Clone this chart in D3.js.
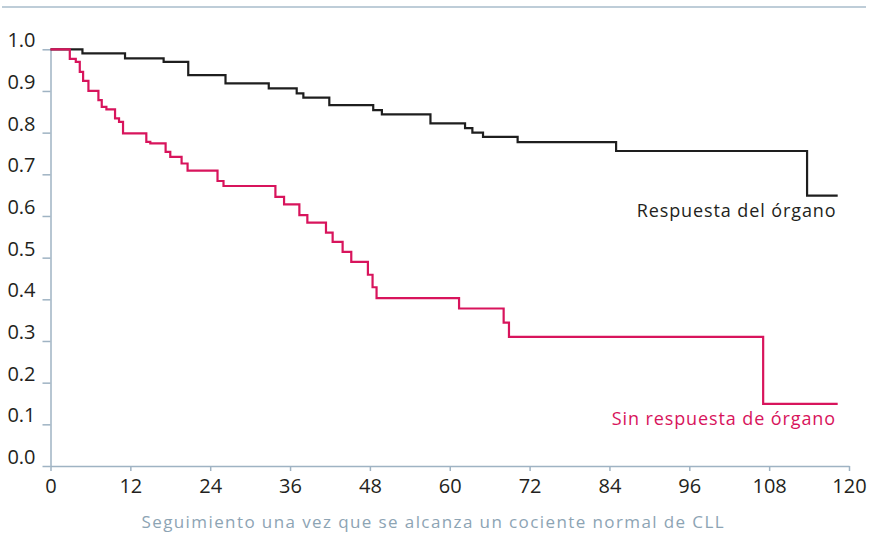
<!DOCTYPE html>
<html>
<head>
<meta charset="utf-8">
<script src="https://cdn.jsdelivr.net/npm/d3@7"></script>
<style>
	body { margin: 0; background: #fff; }
	svg { display: block; font-family: "Open Sans", sans-serif; }
	.axis path, .axis line { stroke: #9fb3c3; stroke-width: 1.5px; }
	.axis text { fill: #231f20; font-size: 20px; font-family: "Open Sans", sans-serif; }
</style>
</head>
<body>
<div id="graphic"></div>
<script>
// time points (months) and survival values
const organTimes = [0, 4.8, 11.2, 17.0, 20.7, 26.3, 32.8, 37.0, 38.0, 41.9, 48.5, 49.8, 57.1, 62.3, 63.4, 65.0, 70.2, 85.0, 113.7, 118.3];
const organValues = [1.0, 0.990, 0.978, 0.970, 0.938, 0.918, 0.906, 0.894, 0.884, 0.866, 0.854, 0.844, 0.822, 0.811, 0.800, 0.790, 0.777, 0.756, 0.649, 0.649];

const noOrganTimes = [0, 2.9, 3.8, 4.4, 4.9, 5.7, 7.2, 7.7, 8.4, 9.7, 10.3, 10.9, 14.4, 15.0, 17.3, 18.0, 19.7, 20.6, 25.1, 26.0, 33.8, 35.1, 37.4, 38.6, 41.4, 42.4, 43.9, 45.2, 47.7, 48.4, 49.0, 61.4, 68.1, 68.9, 107.1, 118.3];
const noOrganValues = [1.0, 0.977, 0.970, 0.946, 0.924, 0.900, 0.878, 0.862, 0.856, 0.834, 0.826, 0.798, 0.778, 0.774, 0.754, 0.742, 0.726, 0.709, 0.684, 0.672, 0.646, 0.628, 0.602, 0.584, 0.560, 0.538, 0.514, 0.490, 0.459, 0.429, 0.403, 0.378, 0.344, 0.310, 0.149, 0.149];

const xTicks = [0, 12, 24, 36, 48, 60, 72, 84, 96, 108, 120];
const yTicks = [0, 0.1, 0.2, 0.3, 0.4, 0.5, 0.6, 0.7, 0.8, 0.9, 1.0];

const xTitle = 'Seguimiento una vez que se alcanza un cociente normal de CLL';
const organLabel = 'Respuesta del órgano';
const noOrganLabel = 'Sin respuesta de órgano';

const organColour = '#1e1e1e';
const noOrganColour = '#d8145c';

const width = 871, height = 533;
const margin = { top: 49.3, right: 22, bottom: 67, left: 50.5 };

const svg = d3.select('#graphic').append('svg')
	.attr('width', width)
	.attr('height', height);

// top rule
svg.append('line')
	.attr('x1', 2).attr('x2', 866)
	.attr('y1', 7).attr('y2', 7)
	.attr('stroke', '#a9bccb')
	.attr('stroke-width', 1.5);

const x = d3.scaleLinear()
	.domain([0, 120])
	.range([margin.left, width - margin.right]);

const y = d3.scaleLinear()
	.domain([0, 1])
	.range([height - margin.bottom, margin.top]);

// x axis
svg.append('g')
	.attr('class', 'x axis')
	.attr('transform', 'translate(0,' + y(0) + ')')
	.call(d3.axisBottom(x).tickValues(xTicks).tickSize(5).tickSizeOuter(0).tickPadding(8))
	.selectAll('text').attr('dy', '0.71em');

// y axis
svg.append('g')
	.attr('class', 'y axis')
	.attr('transform', 'translate(' + x(0) + ',0)')
	.call(d3.axisLeft(y).tickValues(yTicks).tickFormat(d3.format('.1f')).tickSize(8).tickSizeOuter(0).tickPadding(7))
	.selectAll('text').attr('dy', -2.5);

// survival curves
const line = d3.line()
	.curve(d3.curveStepAfter)
	.x((d) => x(d[0]))
	.y((d) => y(d[1]));

svg.append('path')
	.attr('d', line(d3.zip(organTimes, organValues)))
	.attr('fill', 'none')
	.attr('stroke', organColour)
	.attr('stroke-width', 2.2);

svg.append('path')
	.attr('d', line(d3.zip(noOrganTimes, noOrganValues)))
	.attr('fill', 'none')
	.attr('stroke', noOrganColour)
	.attr('stroke-width', 2.2);

// series labels
svg.append('text')
	.attr('x', 836.5).attr('y', 216.5)
	.attr('text-anchor', 'end')
	.attr('font-size', 18)
	.attr('letter-spacing', '0.9px')
	.attr('fill', '#231f20')
	.text(organLabel);

svg.append('text')
	.attr('x', 836).attr('y', 425)
	.attr('text-anchor', 'end')
	.attr('font-size', 18)
	.attr('letter-spacing', '0.9px')
	.attr('fill', noOrganColour)
	.text(noOrganLabel);

// x axis title
svg.append('text')
	.attr('x', 141.5).attr('y', 528.3)
	.attr('font-size', 17)
	.attr('letter-spacing', '1.4px')
	.attr('fill', '#8da4b4')
	.text(xTitle);
</script>
</body>
</html>
